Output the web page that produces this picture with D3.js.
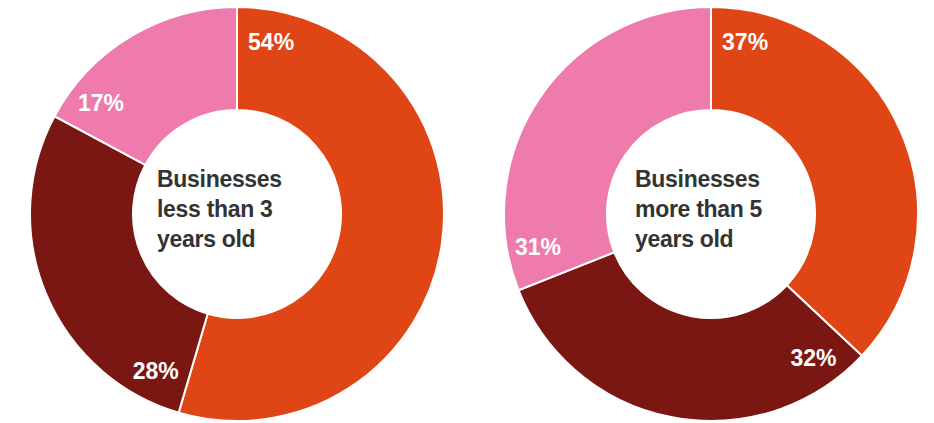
<!DOCTYPE html>
<html>
<head>
<meta charset="utf-8">
<script src="https://cdn.jsdelivr.net/npm/d3@7/dist/d3.min.js"></script>
<style>
  html, body { margin: 0; padding: 0; background: #fff; }
  svg { display: block; }
</style>
</head>
<body>
<div id="chart"></div>
<script>
// segment order: clockwise from 12 o'clock
var segments = ['seg1', 'seg2', 'seg3'];
var colors = ['#e04515', '#7b1712', '#ee7bac'];

var titlesLeft = ['Businesses', 'less than 3', 'years old'];
var titlesRight = ['Businesses', 'more than 5', 'years old'];
var valuesLeft = [54, 28, 17];
var valuesRight = [37, 32, 31];

var W = 934, H = 423;
var outerR = 207, innerR = 104, labelR = 176;

var svg = d3.select('#chart').append('svg')
  .attr('width', W).attr('height', H);

var color = d3.scaleOrdinal().domain(segments).range(colors);
var pie = d3.pie().sort(null).value(function (d) { return d.value; });
var arc = d3.arc().innerRadius(innerR).outerRadius(outerR);

function drawDonut(cx, cy, values, title, textDx) {
  var rows = segments.map(function (s, i) { return { key: s, value: values[i] }; });
  var g = svg.append('g').attr('transform', 'translate(' + cx + ',' + cy + ')');
  var arcs = pie(rows);

  g.selectAll('path').data(arcs).join('path')
    .attr('d', arc)
    .attr('fill', function (d) { return color(d.data.key); })
    .attr('stroke', '#fff')
    .attr('stroke-width', 2)
    .attr('stroke-linejoin', 'miter');

  g.selectAll('.lbl').data(arcs).join('text')
    .attr('class', 'lbl')
    .attr('x', function (d) { return labelR * Math.sin(d.startAngle + 0.195); })
    .attr('y', function (d) { return -labelR * Math.cos(d.startAngle + 0.195); })
    .attr('text-anchor', 'middle')
    .attr('dy', '0.38em')
    .attr('font-family', 'Liberation Sans, Arial, sans-serif')
    .attr('font-weight', 'bold')
    .attr('font-size', 23)
    .attr('fill', '#fff')
    .text(function (d) { return d.data.value + '%'; });

  var t = g.append('text')
    .attr('font-family', 'Liberation Sans, Arial, sans-serif')
    .attr('font-weight', 'bold')
    .attr('font-size', 23)
    .attr('fill', '#333')
    .attr('letter-spacing', -0.3);
  title.forEach(function (line, i) {
    t.append('tspan')
      .attr('x', textDx)
      .attr('y', -27 + i * 30)
      .text(line);
  });
}

drawDonut(237, 214, valuesLeft, titlesLeft, -80);
drawDonut(711, 214, valuesRight, titlesRight, -76);
</script>
</body>
</html>
